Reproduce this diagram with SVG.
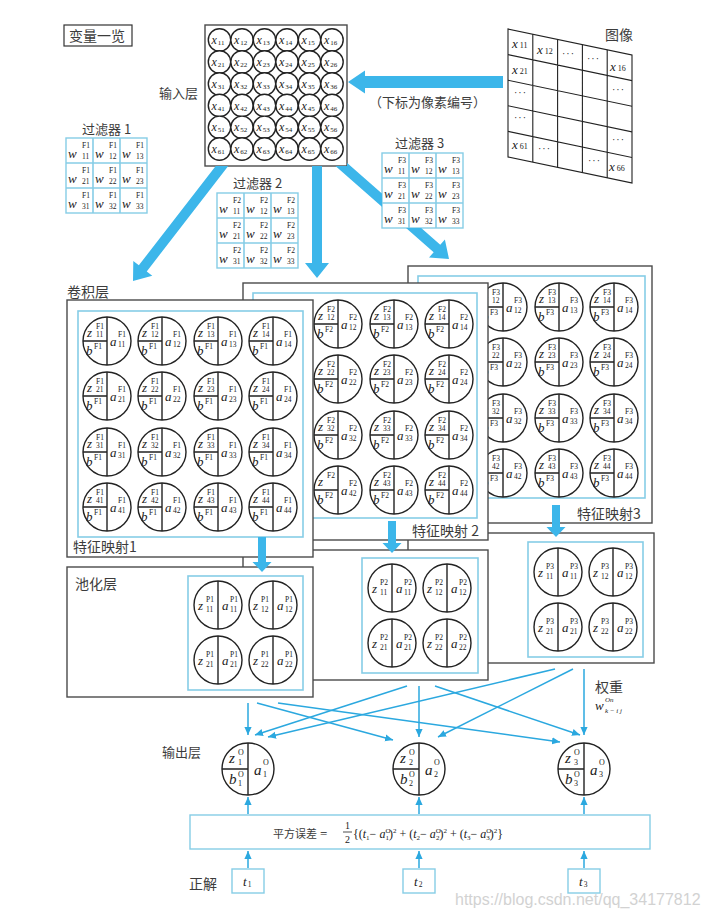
<svg xmlns="http://www.w3.org/2000/svg" width="714" height="916" viewBox="0 0 714 916">
<defs>
<style>
.cn{font-family:"Noto Sans CJK SC","Noto Sans",sans-serif;font-size:14px;fill:#3c3c3c}
.m{font-family:"Liberation Serif","Times New Roman",serif;font-style:italic;font-size:13px;fill:#222}
.s{font-family:"Liberation Serif","Times New Roman",serif;font-style:normal;font-size:7.5px;fill:#222}
.si{font-family:"Liberation Serif",serif;font-style:italic;font-size:7px;fill:#222}
.m2{font-family:"Liberation Serif",serif;font-style:italic;font-size:15px;fill:#222}
.s2{font-family:"Liberation Serif",serif;font-style:normal;font-size:8px;fill:#222}
.box{fill:#fff;stroke:#4a4a4a;stroke-width:1.4}
.cy{fill:none;stroke:#86cde6;stroke-width:1.6}
.cyf{fill:#fff;stroke:#86cde6;stroke-width:1.4}
.cl{fill:#fff;stroke:#222;stroke-width:1.4}
.dv{stroke:#222;stroke-width:1.4;fill:none}
.big{fill:#3cb6ea}
.ln{stroke:#2ba8df;stroke-width:1.5;fill:none;marker-end:url(#ah)}
.gl{stroke:#222;stroke-width:1.1;fill:none}
.xi{font-family:"Liberation Serif",serif;font-style:italic;font-size:12px;fill:#222}
.xs{font-family:"Liberation Serif",serif;font-style:normal;font-size:7px;fill:#222}
.ix{font-family:"Liberation Serif",serif;font-style:italic;font-size:13px;fill:#222}
.ixs{font-family:"Liberation Serif",serif;font-style:normal;font-size:8px;fill:#222}
.dots{font-family:"Liberation Serif",serif;font-size:10px;fill:#222;letter-spacing:1px}
.eq{font-family:"Liberation Serif",serif;font-size:12px;fill:#222}
.it{font-style:italic}
.q{font-size:7px}
</style>
<marker id="ah" viewBox="0 0 10 10" refX="10" refY="5" markerWidth="8" markerHeight="8" markerUnits="userSpaceOnUse" orient="auto"><path d="M0,0.5L10,5L0,9.5z" fill="#2ba8df"/></marker>
<g id="ic"><circle r="11.2" class="cl"/></g>
<g id="fc"><circle r="24" class="cl"/><path d="M0,-24V24M-24,0H0" class="dv"/></g>
<g id="pc"><circle r="24" class="cl"/><path d="M0,-24V24" class="dv"/></g>
<g id="oc"><circle r="26" class="cl"/><path d="M0,-26V26M-26,0H0" class="dv"/></g>
<clipPath id="holes"><path clip-rule="evenodd" d="M0,0H714V916H0ZM205,25H347V166H205ZM382,153H463V228H382Z"/></clipPath>
</defs>
<rect width="714" height="916" fill="#fff"/>

<g id="legend">
<rect x="64" y="25" width="68" height="21" fill="#fff" stroke="#333" stroke-width="1.2"/>
<text class="cn" x="69" y="41">变量一览</text>
</g>

<g id="input-label"><text class="cn" x="159" y="98" style="font-size:13px">输入层</text></g>

<g id="input">
<rect x="205" y="25" width="142" height="141" class="box"/>
<g transform="translate(219.5,40)"><use href="#ic"/><text class="xi" x="-8" y="4">x<tspan class="xs" dx="1" dy="1">11</tspan></text></g>
<g transform="translate(242,40)"><use href="#ic"/><text class="xi" x="-8" y="4">x<tspan class="xs" dx="1" dy="1">12</tspan></text></g>
<g transform="translate(264.5,40)"><use href="#ic"/><text class="xi" x="-8" y="4">x<tspan class="xs" dx="1" dy="1">13</tspan></text></g>
<g transform="translate(287,40)"><use href="#ic"/><text class="xi" x="-8" y="4">x<tspan class="xs" dx="1" dy="1">14</tspan></text></g>
<g transform="translate(309.5,40)"><use href="#ic"/><text class="xi" x="-8" y="4">x<tspan class="xs" dx="1" dy="1">15</tspan></text></g>
<g transform="translate(332,40)"><use href="#ic"/><text class="xi" x="-8" y="4">x<tspan class="xs" dx="1" dy="1">16</tspan></text></g>
<g transform="translate(219.5,62)"><use href="#ic"/><text class="xi" x="-8" y="4">x<tspan class="xs" dx="1" dy="1">21</tspan></text></g>
<g transform="translate(242,62)"><use href="#ic"/><text class="xi" x="-8" y="4">x<tspan class="xs" dx="1" dy="1">22</tspan></text></g>
<g transform="translate(264.5,62)"><use href="#ic"/><text class="xi" x="-8" y="4">x<tspan class="xs" dx="1" dy="1">23</tspan></text></g>
<g transform="translate(287,62)"><use href="#ic"/><text class="xi" x="-8" y="4">x<tspan class="xs" dx="1" dy="1">24</tspan></text></g>
<g transform="translate(309.5,62)"><use href="#ic"/><text class="xi" x="-8" y="4">x<tspan class="xs" dx="1" dy="1">25</tspan></text></g>
<g transform="translate(332,62)"><use href="#ic"/><text class="xi" x="-8" y="4">x<tspan class="xs" dx="1" dy="1">26</tspan></text></g>
<g transform="translate(219.5,84)"><use href="#ic"/><text class="xi" x="-8" y="4">x<tspan class="xs" dx="1" dy="1">31</tspan></text></g>
<g transform="translate(242,84)"><use href="#ic"/><text class="xi" x="-8" y="4">x<tspan class="xs" dx="1" dy="1">32</tspan></text></g>
<g transform="translate(264.5,84)"><use href="#ic"/><text class="xi" x="-8" y="4">x<tspan class="xs" dx="1" dy="1">33</tspan></text></g>
<g transform="translate(287,84)"><use href="#ic"/><text class="xi" x="-8" y="4">x<tspan class="xs" dx="1" dy="1">34</tspan></text></g>
<g transform="translate(309.5,84)"><use href="#ic"/><text class="xi" x="-8" y="4">x<tspan class="xs" dx="1" dy="1">35</tspan></text></g>
<g transform="translate(332,84)"><use href="#ic"/><text class="xi" x="-8" y="4">x<tspan class="xs" dx="1" dy="1">36</tspan></text></g>
<g transform="translate(219.5,105.5)"><use href="#ic"/><text class="xi" x="-8" y="4">x<tspan class="xs" dx="1" dy="1">41</tspan></text></g>
<g transform="translate(242,105.5)"><use href="#ic"/><text class="xi" x="-8" y="4">x<tspan class="xs" dx="1" dy="1">42</tspan></text></g>
<g transform="translate(264.5,105.5)"><use href="#ic"/><text class="xi" x="-8" y="4">x<tspan class="xs" dx="1" dy="1">43</tspan></text></g>
<g transform="translate(287,105.5)"><use href="#ic"/><text class="xi" x="-8" y="4">x<tspan class="xs" dx="1" dy="1">44</tspan></text></g>
<g transform="translate(309.5,105.5)"><use href="#ic"/><text class="xi" x="-8" y="4">x<tspan class="xs" dx="1" dy="1">45</tspan></text></g>
<g transform="translate(332,105.5)"><use href="#ic"/><text class="xi" x="-8" y="4">x<tspan class="xs" dx="1" dy="1">46</tspan></text></g>
<g transform="translate(219.5,127.3)"><use href="#ic"/><text class="xi" x="-8" y="4">x<tspan class="xs" dx="1" dy="1">51</tspan></text></g>
<g transform="translate(242,127.3)"><use href="#ic"/><text class="xi" x="-8" y="4">x<tspan class="xs" dx="1" dy="1">52</tspan></text></g>
<g transform="translate(264.5,127.3)"><use href="#ic"/><text class="xi" x="-8" y="4">x<tspan class="xs" dx="1" dy="1">53</tspan></text></g>
<g transform="translate(287,127.3)"><use href="#ic"/><text class="xi" x="-8" y="4">x<tspan class="xs" dx="1" dy="1">54</tspan></text></g>
<g transform="translate(309.5,127.3)"><use href="#ic"/><text class="xi" x="-8" y="4">x<tspan class="xs" dx="1" dy="1">55</tspan></text></g>
<g transform="translate(332,127.3)"><use href="#ic"/><text class="xi" x="-8" y="4">x<tspan class="xs" dx="1" dy="1">56</tspan></text></g>
<g transform="translate(219.5,149)"><use href="#ic"/><text class="xi" x="-8" y="4">x<tspan class="xs" dx="1" dy="1">61</tspan></text></g>
<g transform="translate(242,149)"><use href="#ic"/><text class="xi" x="-8" y="4">x<tspan class="xs" dx="1" dy="1">62</tspan></text></g>
<g transform="translate(264.5,149)"><use href="#ic"/><text class="xi" x="-8" y="4">x<tspan class="xs" dx="1" dy="1">63</tspan></text></g>
<g transform="translate(287,149)"><use href="#ic"/><text class="xi" x="-8" y="4">x<tspan class="xs" dx="1" dy="1">64</tspan></text></g>
<g transform="translate(309.5,149)"><use href="#ic"/><text class="xi" x="-8" y="4">x<tspan class="xs" dx="1" dy="1">65</tspan></text></g>
<g transform="translate(332,149)"><use href="#ic"/><text class="xi" x="-8" y="4">x<tspan class="xs" dx="1" dy="1">66</tspan></text></g>
</g>

<g id="image">
<text class="cn" x="605" y="40">图像</text>
<g transform="matrix(1,0.21,0,1,508,29)"><rect x="0" y="0" width="124" height="128" class="gl"/><path d="M24.8,0V128M49.6,0V128M74.4,0V128M99.2,0V128M0,25.6H124M0,51.2H124M0,76.8H124M0,102.4H124" class="gl"/></g>
<text class="ix" x="512" y="48">x<tspan class="ixs" dx="2">11</tspan></text>
<text class="ix" x="537" y="54">x<tspan class="ixs" dx="2">12</tspan></text>
<text class="dots" x="562" y="57">···</text>
<text class="dots" x="587" y="62">···</text>
<text class="ix" x="610" y="71">x<tspan class="ixs" dx="2">16</tspan></text>
<text class="ix" x="512" y="74">x<tspan class="ixs" dx="2">21</tspan></text>
<text class="dots" x="612" y="93">···</text>
<text class="dots" x="514" y="96">···</text>
<text class="dots" x="514" y="121">···</text>
<text class="dots" x="612" y="143">···</text>
<text class="ix" x="512" y="149">x<tspan class="ixs" dx="2">61</tspan></text>
<text class="dots" x="538" y="152">···</text>
<text class="dots" x="588" y="164">···</text>
<text class="ix" x="609" y="171">x<tspan class="ixs" dx="2">66</tspan></text>
</g>

<g id="image-note"><text class="cn" x="369" y="107" style="font-size:13px">（下标为像素编号）</text></g>

<g id="filter1">
<text class="cn" x="82" y="134" style="font-size:13px">过滤器 1</text>
<rect x="66" y="138" width="81" height="75" class="cyf"/>
<path d="M93,138V213M120,138V213M66,163H147M66,188H147" class="cy"/>
<text class="m" x="68" y="158">w<tspan class="s" x="82" y="148">F1</tspan><tspan class="s" x="82" y="159">11</tspan></text>
<text class="m" x="95" y="158">w<tspan class="s" x="109" y="148">F1</tspan><tspan class="s" x="109" y="159">12</tspan></text>
<text class="m" x="122" y="158">w<tspan class="s" x="136" y="148">F1</tspan><tspan class="s" x="136" y="159">13</tspan></text>
<text class="m" x="68" y="183">w<tspan class="s" x="82" y="173">F1</tspan><tspan class="s" x="82" y="184">21</tspan></text>
<text class="m" x="95" y="183">w<tspan class="s" x="109" y="173">F1</tspan><tspan class="s" x="109" y="184">22</tspan></text>
<text class="m" x="122" y="183">w<tspan class="s" x="136" y="173">F1</tspan><tspan class="s" x="136" y="184">23</tspan></text>
<text class="m" x="68" y="208">w<tspan class="s" x="82" y="198">F1</tspan><tspan class="s" x="82" y="209">31</tspan></text>
<text class="m" x="95" y="208">w<tspan class="s" x="109" y="198">F1</tspan><tspan class="s" x="109" y="209">32</tspan></text>
<text class="m" x="122" y="208">w<tspan class="s" x="136" y="198">F1</tspan><tspan class="s" x="136" y="209">33</tspan></text>
</g>

<g id="filter2">
<text class="cn" x="233" y="188" style="font-size:13px">过滤器 2</text>
<rect x="217" y="193" width="81" height="75" class="cyf"/>
<path d="M244,193V268M271,193V268M217,218H298M217,243H298" class="cy"/>
<text class="m" x="219" y="213">w<tspan class="s" x="233" y="203">F2</tspan><tspan class="s" x="233" y="214">11</tspan></text>
<text class="m" x="246" y="213">w<tspan class="s" x="260" y="203">F2</tspan><tspan class="s" x="260" y="214">12</tspan></text>
<text class="m" x="273" y="213">w<tspan class="s" x="287" y="203">F2</tspan><tspan class="s" x="287" y="214">13</tspan></text>
<text class="m" x="219" y="238">w<tspan class="s" x="233" y="228">F2</tspan><tspan class="s" x="233" y="239">21</tspan></text>
<text class="m" x="246" y="238">w<tspan class="s" x="260" y="228">F2</tspan><tspan class="s" x="260" y="239">22</tspan></text>
<text class="m" x="273" y="238">w<tspan class="s" x="287" y="228">F2</tspan><tspan class="s" x="287" y="239">23</tspan></text>
<text class="m" x="219" y="263">w<tspan class="s" x="233" y="253">F2</tspan><tspan class="s" x="233" y="264">31</tspan></text>
<text class="m" x="246" y="263">w<tspan class="s" x="260" y="253">F2</tspan><tspan class="s" x="260" y="264">32</tspan></text>
<text class="m" x="273" y="263">w<tspan class="s" x="287" y="253">F2</tspan><tspan class="s" x="287" y="264">33</tspan></text>
</g>

<g id="filter3">
<text class="cn" x="395" y="148" style="font-size:13px">过滤器 3</text>
<rect x="382" y="153" width="81" height="75" class="cyf"/>
<path d="M409,153V228M436,153V228M382,178H463M382,203H463" class="cy"/>
<text class="m" x="384" y="173">w<tspan class="s" x="398" y="163">F3</tspan><tspan class="s" x="398" y="174">11</tspan></text>
<text class="m" x="411" y="173">w<tspan class="s" x="425" y="163">F3</tspan><tspan class="s" x="425" y="174">12</tspan></text>
<text class="m" x="438" y="173">w<tspan class="s" x="452" y="163">F3</tspan><tspan class="s" x="452" y="174">13</tspan></text>
<text class="m" x="384" y="198">w<tspan class="s" x="398" y="188">F3</tspan><tspan class="s" x="398" y="199">21</tspan></text>
<text class="m" x="411" y="198">w<tspan class="s" x="425" y="188">F3</tspan><tspan class="s" x="425" y="199">22</tspan></text>
<text class="m" x="438" y="198">w<tspan class="s" x="452" y="188">F3</tspan><tspan class="s" x="452" y="199">23</tspan></text>
<text class="m" x="384" y="223">w<tspan class="s" x="398" y="213">F3</tspan><tspan class="s" x="398" y="224">31</tspan></text>
<text class="m" x="411" y="223">w<tspan class="s" x="425" y="213">F3</tspan><tspan class="s" x="425" y="224">32</tspan></text>
<text class="m" x="438" y="223">w<tspan class="s" x="452" y="213">F3</tspan><tspan class="s" x="452" y="224">33</tspan></text>
</g>

<g id="conv-label"><text class="cn" x="67" y="297">卷积层</text></g>

<g id="fmap3">
<rect x="408" y="266" width="244" height="257" class="box"/>
<rect x="418" y="276" width="227" height="222" class="cy"/>
<text class="cn" x="577" y="519">特征映射3</text>
<g transform="translate(503,307)"><use href="#fc"/><text class="m" x="-20" y="-4">z<tspan class="s" x="-11" y="-12">F3</tspan><tspan class="s" x="-11" y="-4">12</tspan></text><text class="m" x="-21" y="14">b<tspan class="s" x="-13" y="8">F3</tspan></text><text class="m" x="3" y="5">a<tspan class="s" x="11" y="-4">F3</tspan><tspan class="s" x="11" y="6">12</tspan></text></g>
<g transform="translate(559,307)"><use href="#fc"/><text class="m" x="-20" y="-4">z<tspan class="s" x="-11" y="-12">F3</tspan><tspan class="s" x="-11" y="-4">13</tspan></text><text class="m" x="-21" y="14">b<tspan class="s" x="-13" y="8">F3</tspan></text><text class="m" x="3" y="5">a<tspan class="s" x="11" y="-4">F3</tspan><tspan class="s" x="11" y="6">13</tspan></text></g>
<g transform="translate(614,307)"><use href="#fc"/><text class="m" x="-20" y="-4">z<tspan class="s" x="-11" y="-12">F3</tspan><tspan class="s" x="-11" y="-4">14</tspan></text><text class="m" x="-21" y="14">b<tspan class="s" x="-13" y="8">F3</tspan></text><text class="m" x="3" y="5">a<tspan class="s" x="11" y="-4">F3</tspan><tspan class="s" x="11" y="6">14</tspan></text></g>
<g transform="translate(503,362)"><use href="#fc"/><text class="m" x="-20" y="-4">z<tspan class="s" x="-11" y="-12">F3</tspan><tspan class="s" x="-11" y="-4">22</tspan></text><text class="m" x="-21" y="14">b<tspan class="s" x="-13" y="8">F3</tspan></text><text class="m" x="3" y="5">a<tspan class="s" x="11" y="-4">F3</tspan><tspan class="s" x="11" y="6">22</tspan></text></g>
<g transform="translate(559,362)"><use href="#fc"/><text class="m" x="-20" y="-4">z<tspan class="s" x="-11" y="-12">F3</tspan><tspan class="s" x="-11" y="-4">23</tspan></text><text class="m" x="-21" y="14">b<tspan class="s" x="-13" y="8">F3</tspan></text><text class="m" x="3" y="5">a<tspan class="s" x="11" y="-4">F3</tspan><tspan class="s" x="11" y="6">23</tspan></text></g>
<g transform="translate(614,362)"><use href="#fc"/><text class="m" x="-20" y="-4">z<tspan class="s" x="-11" y="-12">F3</tspan><tspan class="s" x="-11" y="-4">24</tspan></text><text class="m" x="-21" y="14">b<tspan class="s" x="-13" y="8">F3</tspan></text><text class="m" x="3" y="5">a<tspan class="s" x="11" y="-4">F3</tspan><tspan class="s" x="11" y="6">24</tspan></text></g>
<g transform="translate(503,418)"><use href="#fc"/><text class="m" x="-20" y="-4">z<tspan class="s" x="-11" y="-12">F3</tspan><tspan class="s" x="-11" y="-4">32</tspan></text><text class="m" x="-21" y="14">b<tspan class="s" x="-13" y="8">F3</tspan></text><text class="m" x="3" y="5">a<tspan class="s" x="11" y="-4">F3</tspan><tspan class="s" x="11" y="6">32</tspan></text></g>
<g transform="translate(559,418)"><use href="#fc"/><text class="m" x="-20" y="-4">z<tspan class="s" x="-11" y="-12">F3</tspan><tspan class="s" x="-11" y="-4">33</tspan></text><text class="m" x="-21" y="14">b<tspan class="s" x="-13" y="8">F3</tspan></text><text class="m" x="3" y="5">a<tspan class="s" x="11" y="-4">F3</tspan><tspan class="s" x="11" y="6">33</tspan></text></g>
<g transform="translate(614,418)"><use href="#fc"/><text class="m" x="-20" y="-4">z<tspan class="s" x="-11" y="-12">F3</tspan><tspan class="s" x="-11" y="-4">34</tspan></text><text class="m" x="-21" y="14">b<tspan class="s" x="-13" y="8">F3</tspan></text><text class="m" x="3" y="5">a<tspan class="s" x="11" y="-4">F3</tspan><tspan class="s" x="11" y="6">34</tspan></text></g>
<g transform="translate(503,473)"><use href="#fc"/><text class="m" x="-20" y="-4">z<tspan class="s" x="-11" y="-12">F3</tspan><tspan class="s" x="-11" y="-4">42</tspan></text><text class="m" x="-21" y="14">b<tspan class="s" x="-13" y="8">F3</tspan></text><text class="m" x="3" y="5">a<tspan class="s" x="11" y="-4">F3</tspan><tspan class="s" x="11" y="6">42</tspan></text></g>
<g transform="translate(559,473)"><use href="#fc"/><text class="m" x="-20" y="-4">z<tspan class="s" x="-11" y="-12">F3</tspan><tspan class="s" x="-11" y="-4">43</tspan></text><text class="m" x="-21" y="14">b<tspan class="s" x="-13" y="8">F3</tspan></text><text class="m" x="3" y="5">a<tspan class="s" x="11" y="-4">F3</tspan><tspan class="s" x="11" y="6">43</tspan></text></g>
<g transform="translate(614,473)"><use href="#fc"/><text class="m" x="-20" y="-4">z<tspan class="s" x="-11" y="-12">F3</tspan><tspan class="s" x="-11" y="-4">44</tspan></text><text class="m" x="-21" y="14">b<tspan class="s" x="-13" y="8">F3</tspan></text><text class="m" x="3" y="5">a<tspan class="s" x="11" y="-4">F3</tspan><tspan class="s" x="11" y="6">44</tspan></text></g>
</g>

<g id="pool3">
<rect x="408" y="533" width="246" height="130" class="box"/>
<rect x="528" y="542" width="115" height="115" class="cy"/>
<g transform="translate(558,572)"><use href="#pc"/><text class="m" x="-20" y="5">z<tspan class="s" x="-12" y="-3">P3</tspan><tspan class="s" x="-12" y="7">11</tspan></text><text class="m" x="4" y="5">a<tspan class="s" x="12" y="-3">P3</tspan><tspan class="s" x="12" y="7">11</tspan></text></g>
<g transform="translate(613,572)"><use href="#pc"/><text class="m" x="-20" y="5">z<tspan class="s" x="-12" y="-3">P3</tspan><tspan class="s" x="-12" y="7">12</tspan></text><text class="m" x="4" y="5">a<tspan class="s" x="12" y="-3">P3</tspan><tspan class="s" x="12" y="7">12</tspan></text></g>
<g transform="translate(558,627)"><use href="#pc"/><text class="m" x="-20" y="5">z<tspan class="s" x="-12" y="-3">P3</tspan><tspan class="s" x="-12" y="7">21</tspan></text><text class="m" x="4" y="5">a<tspan class="s" x="12" y="-3">P3</tspan><tspan class="s" x="12" y="7">21</tspan></text></g>
<g transform="translate(613,627)"><use href="#pc"/><text class="m" x="-20" y="5">z<tspan class="s" x="-12" y="-3">P3</tspan><tspan class="s" x="-12" y="7">22</tspan></text><text class="m" x="4" y="5">a<tspan class="s" x="12" y="-3">P3</tspan><tspan class="s" x="12" y="7">22</tspan></text></g>
</g>

<g id="fmap2">
<rect x="243" y="283" width="245" height="257" class="box"/>
<rect x="253" y="293" width="224" height="225" class="cy"/>
<text class="cn" x="412" y="536">特征映射 2</text>
<g transform="translate(338,324)"><use href="#fc"/><text class="m" x="-20" y="-4">z<tspan class="s" x="-11" y="-12">F2</tspan><tspan class="s" x="-11" y="-4">12</tspan></text><text class="m" x="-21" y="14">b<tspan class="s" x="-13" y="8">F2</tspan></text><text class="m" x="3" y="5">a<tspan class="s" x="11" y="-4">F2</tspan><tspan class="s" x="11" y="6">12</tspan></text></g>
<g transform="translate(394,324)"><use href="#fc"/><text class="m" x="-20" y="-4">z<tspan class="s" x="-11" y="-12">F2</tspan><tspan class="s" x="-11" y="-4">13</tspan></text><text class="m" x="-21" y="14">b<tspan class="s" x="-13" y="8">F2</tspan></text><text class="m" x="3" y="5">a<tspan class="s" x="11" y="-4">F2</tspan><tspan class="s" x="11" y="6">13</tspan></text></g>
<g transform="translate(449,324)"><use href="#fc"/><text class="m" x="-20" y="-4">z<tspan class="s" x="-11" y="-12">F2</tspan><tspan class="s" x="-11" y="-4">14</tspan></text><text class="m" x="-21" y="14">b<tspan class="s" x="-13" y="8">F2</tspan></text><text class="m" x="3" y="5">a<tspan class="s" x="11" y="-4">F2</tspan><tspan class="s" x="11" y="6">14</tspan></text></g>
<g transform="translate(338,379)"><use href="#fc"/><text class="m" x="-20" y="-4">z<tspan class="s" x="-11" y="-12">F2</tspan><tspan class="s" x="-11" y="-4">22</tspan></text><text class="m" x="-21" y="14">b<tspan class="s" x="-13" y="8">F2</tspan></text><text class="m" x="3" y="5">a<tspan class="s" x="11" y="-4">F2</tspan><tspan class="s" x="11" y="6">22</tspan></text></g>
<g transform="translate(394,379)"><use href="#fc"/><text class="m" x="-20" y="-4">z<tspan class="s" x="-11" y="-12">F2</tspan><tspan class="s" x="-11" y="-4">23</tspan></text><text class="m" x="-21" y="14">b<tspan class="s" x="-13" y="8">F2</tspan></text><text class="m" x="3" y="5">a<tspan class="s" x="11" y="-4">F2</tspan><tspan class="s" x="11" y="6">23</tspan></text></g>
<g transform="translate(449,379)"><use href="#fc"/><text class="m" x="-20" y="-4">z<tspan class="s" x="-11" y="-12">F2</tspan><tspan class="s" x="-11" y="-4">24</tspan></text><text class="m" x="-21" y="14">b<tspan class="s" x="-13" y="8">F2</tspan></text><text class="m" x="3" y="5">a<tspan class="s" x="11" y="-4">F2</tspan><tspan class="s" x="11" y="6">24</tspan></text></g>
<g transform="translate(338,435)"><use href="#fc"/><text class="m" x="-20" y="-4">z<tspan class="s" x="-11" y="-12">F2</tspan><tspan class="s" x="-11" y="-4">32</tspan></text><text class="m" x="-21" y="14">b<tspan class="s" x="-13" y="8">F2</tspan></text><text class="m" x="3" y="5">a<tspan class="s" x="11" y="-4">F2</tspan><tspan class="s" x="11" y="6">32</tspan></text></g>
<g transform="translate(394,435)"><use href="#fc"/><text class="m" x="-20" y="-4">z<tspan class="s" x="-11" y="-12">F2</tspan><tspan class="s" x="-11" y="-4">33</tspan></text><text class="m" x="-21" y="14">b<tspan class="s" x="-13" y="8">F2</tspan></text><text class="m" x="3" y="5">a<tspan class="s" x="11" y="-4">F2</tspan><tspan class="s" x="11" y="6">33</tspan></text></g>
<g transform="translate(449,435)"><use href="#fc"/><text class="m" x="-20" y="-4">z<tspan class="s" x="-11" y="-12">F2</tspan><tspan class="s" x="-11" y="-4">34</tspan></text><text class="m" x="-21" y="14">b<tspan class="s" x="-13" y="8">F2</tspan></text><text class="m" x="3" y="5">a<tspan class="s" x="11" y="-4">F2</tspan><tspan class="s" x="11" y="6">34</tspan></text></g>
<g transform="translate(338,490)"><use href="#fc"/><text class="m" x="-20" y="-4">z<tspan class="s" x="-11" y="-12">F2</tspan></text><text class="m" x="-21" y="14">b<tspan class="s" x="-13" y="8">F2</tspan></text><text class="m" x="3" y="5">a<tspan class="s" x="11" y="-4">F2</tspan><tspan class="s" x="11" y="6">42</tspan></text></g>
<g transform="translate(394,490)"><use href="#fc"/><text class="m" x="-20" y="-4">z<tspan class="s" x="-11" y="-12">F2</tspan><tspan class="s" x="-11" y="-4">43</tspan></text><text class="m" x="-21" y="14">b<tspan class="s" x="-13" y="8">F2</tspan></text><text class="m" x="3" y="5">a<tspan class="s" x="11" y="-4">F2</tspan><tspan class="s" x="11" y="6">43</tspan></text></g>
<g transform="translate(449,490)"><use href="#fc"/><text class="m" x="-20" y="-4">z<tspan class="s" x="-11" y="-12">F2</tspan><tspan class="s" x="-11" y="-4">44</tspan></text><text class="m" x="-21" y="14">b<tspan class="s" x="-13" y="8">F2</tspan></text><text class="m" x="3" y="5">a<tspan class="s" x="11" y="-4">F2</tspan><tspan class="s" x="11" y="6">44</tspan></text></g>
</g>

<g id="pool2">
<rect x="243" y="550" width="245" height="130" class="box"/>
<rect x="362" y="558" width="116" height="115" class="cy"/>
<g transform="translate(392,588)"><use href="#pc"/><text class="m" x="-20" y="5">z<tspan class="s" x="-12" y="-3">P2</tspan><tspan class="s" x="-12" y="7">11</tspan></text><text class="m" x="4" y="5">a<tspan class="s" x="12" y="-3">P2</tspan><tspan class="s" x="12" y="7">11</tspan></text></g>
<g transform="translate(447,588)"><use href="#pc"/><text class="m" x="-20" y="5">z<tspan class="s" x="-12" y="-3">P2</tspan><tspan class="s" x="-12" y="7">12</tspan></text><text class="m" x="4" y="5">a<tspan class="s" x="12" y="-3">P2</tspan><tspan class="s" x="12" y="7">12</tspan></text></g>
<g transform="translate(392,643)"><use href="#pc"/><text class="m" x="-20" y="5">z<tspan class="s" x="-12" y="-3">P2</tspan><tspan class="s" x="-12" y="7">21</tspan></text><text class="m" x="4" y="5">a<tspan class="s" x="12" y="-3">P2</tspan><tspan class="s" x="12" y="7">21</tspan></text></g>
<g transform="translate(447,643)"><use href="#pc"/><text class="m" x="-20" y="5">z<tspan class="s" x="-12" y="-3">P2</tspan><tspan class="s" x="-12" y="7">22</tspan></text><text class="m" x="4" y="5">a<tspan class="s" x="12" y="-3">P2</tspan><tspan class="s" x="12" y="7">22</tspan></text></g>
</g>

<g id="fmap1">
<rect x="67" y="300" width="246" height="257" class="box"/>
<rect x="78" y="311" width="225" height="226" class="cy"/>
<text class="cn" x="73" y="552">特征映射1</text>
<g transform="translate(107,341)"><use href="#fc"/><text class="m" x="-20" y="-4">z<tspan class="s" x="-11" y="-12">F1</tspan><tspan class="s" x="-11" y="-4">11</tspan></text><text class="m" x="-21" y="14">b<tspan class="s" x="-13" y="8">F1</tspan></text><text class="m" x="3" y="5">a<tspan class="s" x="11" y="-4">F1</tspan><tspan class="s" x="11" y="6">11</tspan></text></g>
<g transform="translate(162,341)"><use href="#fc"/><text class="m" x="-20" y="-4">z<tspan class="s" x="-11" y="-12">F1</tspan><tspan class="s" x="-11" y="-4">12</tspan></text><text class="m" x="-21" y="14">b<tspan class="s" x="-13" y="8">F1</tspan></text><text class="m" x="3" y="5">a<tspan class="s" x="11" y="-4">F1</tspan><tspan class="s" x="11" y="6">12</tspan></text></g>
<g transform="translate(218,341)"><use href="#fc"/><text class="m" x="-20" y="-4">z<tspan class="s" x="-11" y="-12">F1</tspan><tspan class="s" x="-11" y="-4">13</tspan></text><text class="m" x="-21" y="14">b<tspan class="s" x="-13" y="8">F1</tspan></text><text class="m" x="3" y="5">a<tspan class="s" x="11" y="-4">F1</tspan><tspan class="s" x="11" y="6">13</tspan></text></g>
<g transform="translate(273,341)"><use href="#fc"/><text class="m" x="-20" y="-4">z<tspan class="s" x="-11" y="-12">F1</tspan><tspan class="s" x="-11" y="-4">14</tspan></text><text class="m" x="-21" y="14">b<tspan class="s" x="-13" y="8">F1</tspan></text><text class="m" x="3" y="5">a<tspan class="s" x="11" y="-4">F1</tspan><tspan class="s" x="11" y="6">14</tspan></text></g>
<g transform="translate(107,396)"><use href="#fc"/><text class="m" x="-20" y="-4">z<tspan class="s" x="-11" y="-12">F1</tspan><tspan class="s" x="-11" y="-4">21</tspan></text><text class="m" x="-21" y="14">b<tspan class="s" x="-13" y="8">F1</tspan></text><text class="m" x="3" y="5">a<tspan class="s" x="11" y="-4">F1</tspan><tspan class="s" x="11" y="6">21</tspan></text></g>
<g transform="translate(162,396)"><use href="#fc"/><text class="m" x="-20" y="-4">z<tspan class="s" x="-11" y="-12">F1</tspan><tspan class="s" x="-11" y="-4">22</tspan></text><text class="m" x="-21" y="14">b<tspan class="s" x="-13" y="8">F1</tspan></text><text class="m" x="3" y="5">a<tspan class="s" x="11" y="-4">F1</tspan><tspan class="s" x="11" y="6">22</tspan></text></g>
<g transform="translate(218,396)"><use href="#fc"/><text class="m" x="-20" y="-4">z<tspan class="s" x="-11" y="-12">F1</tspan><tspan class="s" x="-11" y="-4">23</tspan></text><text class="m" x="-21" y="14">b<tspan class="s" x="-13" y="8">F1</tspan></text><text class="m" x="3" y="5">a<tspan class="s" x="11" y="-4">F1</tspan><tspan class="s" x="11" y="6">23</tspan></text></g>
<g transform="translate(273,396)"><use href="#fc"/><text class="m" x="-20" y="-4">z<tspan class="s" x="-11" y="-12">F1</tspan><tspan class="s" x="-11" y="-4">24</tspan></text><text class="m" x="-21" y="14">b<tspan class="s" x="-13" y="8">F1</tspan></text><text class="m" x="3" y="5">a<tspan class="s" x="11" y="-4">F1</tspan><tspan class="s" x="11" y="6">24</tspan></text></g>
<g transform="translate(107,452)"><use href="#fc"/><text class="m" x="-20" y="-4">z<tspan class="s" x="-11" y="-12">F1</tspan><tspan class="s" x="-11" y="-4">31</tspan></text><text class="m" x="-21" y="14">b<tspan class="s" x="-13" y="8">F1</tspan></text><text class="m" x="3" y="5">a<tspan class="s" x="11" y="-4">F1</tspan><tspan class="s" x="11" y="6">31</tspan></text></g>
<g transform="translate(162,452)"><use href="#fc"/><text class="m" x="-20" y="-4">z<tspan class="s" x="-11" y="-12">F1</tspan><tspan class="s" x="-11" y="-4">32</tspan></text><text class="m" x="-21" y="14">b<tspan class="s" x="-13" y="8">F1</tspan></text><text class="m" x="3" y="5">a<tspan class="s" x="11" y="-4">F1</tspan><tspan class="s" x="11" y="6">32</tspan></text></g>
<g transform="translate(218,452)"><use href="#fc"/><text class="m" x="-20" y="-4">z<tspan class="s" x="-11" y="-12">F1</tspan><tspan class="s" x="-11" y="-4">33</tspan></text><text class="m" x="-21" y="14">b<tspan class="s" x="-13" y="8">F1</tspan></text><text class="m" x="3" y="5">a<tspan class="s" x="11" y="-4">F1</tspan><tspan class="s" x="11" y="6">33</tspan></text></g>
<g transform="translate(273,452)"><use href="#fc"/><text class="m" x="-20" y="-4">z<tspan class="s" x="-11" y="-12">F1</tspan><tspan class="s" x="-11" y="-4">34</tspan></text><text class="m" x="-21" y="14">b<tspan class="s" x="-13" y="8">F1</tspan></text><text class="m" x="3" y="5">a<tspan class="s" x="11" y="-4">F1</tspan><tspan class="s" x="11" y="6">34</tspan></text></g>
<g transform="translate(107,507)"><use href="#fc"/><text class="m" x="-20" y="-4">z<tspan class="s" x="-11" y="-12">F1</tspan><tspan class="s" x="-11" y="-4">41</tspan></text><text class="m" x="-21" y="14">b<tspan class="s" x="-13" y="8">F1</tspan></text><text class="m" x="3" y="5">a<tspan class="s" x="11" y="-4">F1</tspan><tspan class="s" x="11" y="6">41</tspan></text></g>
<g transform="translate(162,507)"><use href="#fc"/><text class="m" x="-20" y="-4">z<tspan class="s" x="-11" y="-12">F1</tspan><tspan class="s" x="-11" y="-4">42</tspan></text><text class="m" x="-21" y="14">b<tspan class="s" x="-13" y="8">F1</tspan></text><text class="m" x="3" y="5">a<tspan class="s" x="11" y="-4">F1</tspan><tspan class="s" x="11" y="6">42</tspan></text></g>
<g transform="translate(218,507)"><use href="#fc"/><text class="m" x="-20" y="-4">z<tspan class="s" x="-11" y="-12">F1</tspan><tspan class="s" x="-11" y="-4">43</tspan></text><text class="m" x="-21" y="14">b<tspan class="s" x="-13" y="8">F1</tspan></text><text class="m" x="3" y="5">a<tspan class="s" x="11" y="-4">F1</tspan><tspan class="s" x="11" y="6">43</tspan></text></g>
<g transform="translate(273,507)"><use href="#fc"/><text class="m" x="-20" y="-4">z<tspan class="s" x="-11" y="-12">F1</tspan><tspan class="s" x="-11" y="-4">44</tspan></text><text class="m" x="-21" y="14">b<tspan class="s" x="-13" y="8">F1</tspan></text><text class="m" x="3" y="5">a<tspan class="s" x="11" y="-4">F1</tspan><tspan class="s" x="11" y="6">44</tspan></text></g>
</g>

<g id="pool1">
<rect x="67" y="567" width="246" height="130" class="box"/>
<text class="cn" x="75" y="589">池化层</text>
<rect x="188" y="576" width="115" height="114" class="cy"/>
<g transform="translate(218,605)"><use href="#pc"/><text class="m" x="-20" y="5">z<tspan class="s" x="-12" y="-3">P1</tspan><tspan class="s" x="-12" y="7">11</tspan></text><text class="m" x="4" y="5">a<tspan class="s" x="12" y="-3">P1</tspan><tspan class="s" x="12" y="7">11</tspan></text></g>
<g transform="translate(273,605)"><use href="#pc"/><text class="m" x="-20" y="5">z<tspan class="s" x="-12" y="-3">P1</tspan><tspan class="s" x="-12" y="7">12</tspan></text><text class="m" x="4" y="5">a<tspan class="s" x="12" y="-3">P1</tspan><tspan class="s" x="12" y="7">12</tspan></text></g>
<g transform="translate(218,660)"><use href="#pc"/><text class="m" x="-20" y="5">z<tspan class="s" x="-12" y="-3">P1</tspan><tspan class="s" x="-12" y="7">21</tspan></text><text class="m" x="4" y="5">a<tspan class="s" x="12" y="-3">P1</tspan><tspan class="s" x="12" y="7">21</tspan></text></g>
<g transform="translate(273,660)"><use href="#pc"/><text class="m" x="-20" y="5">z<tspan class="s" x="-12" y="-3">P1</tspan><tspan class="s" x="-12" y="7">22</tspan></text><text class="m" x="4" y="5">a<tspan class="s" x="12" y="-3">P1</tspan><tspan class="s" x="12" y="7">22</tspan></text></g>
</g>

<g id="weights">
<text class="cn" x="595" y="692">权重</text>
<text class="m" x="595" y="710">w<tspan class="si" x="605" y="702">On</tspan><tspan class="si" x="605" y="713">k − i j</tspan></text>
</g>

<g id="output-label"><text class="cn" x="162" y="757" style="font-size:13px">输出层</text></g>

<g id="o1" transform="translate(248,769)"><use href="#oc"/><text class="m2" x="-19" y="-6">z<tspan class="s2" x="-10" y="-14">O</tspan><tspan class="s2" x="-10" y="-4">1</tspan></text><text class="m2" x="-19" y="15">b<tspan class="s2" x="-10" y="8">O</tspan><tspan class="s2" x="-10" y="17">1</tspan></text><text class="m2" x="6" y="6">a<tspan class="s2" x="15" y="-4">O</tspan><tspan class="s2" x="15" y="8">1</tspan></text></g>
<g id="o2" transform="translate(419,769)"><use href="#oc"/><text class="m2" x="-19" y="-6">z<tspan class="s2" x="-10" y="-14">O</tspan><tspan class="s2" x="-10" y="-4">2</tspan></text><text class="m2" x="-19" y="15">b<tspan class="s2" x="-10" y="8">O</tspan><tspan class="s2" x="-10" y="17">2</tspan></text><text class="m2" x="6" y="6">a<tspan class="s2" x="15" y="-4">O</tspan><tspan class="s2" x="15" y="8">2</tspan></text></g>
<g id="o3" transform="translate(584,769)"><use href="#oc"/><text class="m2" x="-19" y="-6">z<tspan class="s2" x="-10" y="-14">O</tspan><tspan class="s2" x="-10" y="-4">3</tspan></text><text class="m2" x="-19" y="15">b<tspan class="s2" x="-10" y="8">O</tspan><tspan class="s2" x="-10" y="17">3</tspan></text><text class="m2" x="6" y="6">a<tspan class="s2" x="15" y="-4">O</tspan><tspan class="s2" x="15" y="8">3</tspan></text></g>

<g id="error">
<rect x="190" y="815" width="460" height="34" class="cyf"/>
<text class="cn" x="273" y="838" style="font-size:11px">平方误差</text>
<text class="eq" x="320" y="838" style="font-size:13px">=</text>
<text class="eq" x="347.5" y="829" text-anchor="middle" style="font-size:10px">1</text>
<line x1="343" y1="832" x2="352" y2="832" stroke="#222" stroke-width="0.8"/>
<text class="eq" x="347.5" y="843" text-anchor="middle" style="font-size:10px">2</text>
<text class="eq" x="353" y="838">{(<tspan class="it">t</tspan><tspan class="q" dy="2">1</tspan><tspan dy="-2">− </tspan><tspan class="it">a</tspan><tspan class="q" dy="-5">O</tspan><tspan class="q" dx="-5" dy="7">1</tspan><tspan dy="-2">)</tspan><tspan class="q" dy="-5">2</tspan><tspan dy="5"> + (</tspan><tspan class="it">t</tspan><tspan class="q" dy="2">2</tspan><tspan dy="-2">− </tspan><tspan class="it">a</tspan><tspan class="q" dy="-5">O</tspan><tspan class="q" dx="-5" dy="7">2</tspan><tspan dy="-2">)</tspan><tspan class="q" dy="-5">2</tspan><tspan dy="5"> + (</tspan><tspan class="it">t</tspan><tspan class="q" dy="2">3</tspan><tspan dy="-2">− </tspan><tspan class="it">a</tspan><tspan class="q" dy="-5">O</tspan><tspan class="q" dx="-5" dy="7">3</tspan><tspan dy="-2">)</tspan><tspan class="q" dy="-5">2</tspan><tspan dy="5">}</tspan></text>
</g>

<g id="answer-label"><text class="cn" x="189" y="889">正解</text></g>
<g id="t1"><rect x="232" y="869" width="32" height="24" class="cyf"/><text class="m" x="243" y="886">t<tspan class="s" dx="1" dy="1">1</tspan></text></g>
<g id="t2"><rect x="403" y="869" width="32" height="24" class="cyf"/><text class="m" x="414" y="886">t<tspan class="s" dx="1" dy="1">2</tspan></text></g>
<g id="t3"><rect x="568" y="869" width="32" height="24" class="cyf"/><text class="m" x="579" y="886">t<tspan class="s" dx="1" dy="1">3</tspan></text></g>

<g id="connectors">
<polygon class="big" points="503,76 365,76 365,70.5 348,82 365,93.5 365,88 503,88"/>
<g clip-path="url(#holes)">
<polygon class="big" points="229.62,164.31 146.74,271.41 152.28,275.70 133,281 133.30,261.0 138.84,265.29 221.72,158.19"/>
<polygon class="big" points="312,158 322,158 322,263 329,263 317,278 305,263 312,263"/>
<polygon class="big" points="335.19,165.80 433.67,252.21 429.05,257.47 449,259 444.89,239.43 440.27,244.69 341.79,158.28"/>
</g>
<polygon class="big" points="258,537 266,537 266,562 271.5,562 262,572 252.5,562 258,562"/>
<polygon class="big" points="388,521 396,521 396,543 401.5,543 392,553 382.5,543 388,543"/>
<polygon class="big" points="552,505 560,505 560,527 565.5,527 556,537 546.5,527 552,527"/>
<path class="ln" d="M248,703V735"/>
<path class="ln" d="M257,703L393,740"/>
<path class="ln" d="M278,703L560,742"/>
<path class="ln" d="M407,686L255,735"/>
<path class="ln" d="M419,686V737"/>
<path class="ln" d="M435,686L580,735"/>
<path class="ln" d="M555,669L268,737"/>
<path class="ln" d="M573,669L438,737"/>
<path class="ln" d="M584,669V735"/>
<path class="ln" d="M248,814V797"/>
<path class="ln" d="M419,814V797"/>
<path class="ln" d="M584,814V797"/>
<path class="ln" d="M248,868V851"/>
<path class="ln" d="M419,868V851"/>
<path class="ln" d="M584,868V851"/>
</g>

<g id="watermark"><text x="455" y="905" font-family="'Liberation Sans',Arial,sans-serif" font-size="16" fill="#d2d2d2">https://blog.csdn.net/qq_34177812</text></g>
</svg>
